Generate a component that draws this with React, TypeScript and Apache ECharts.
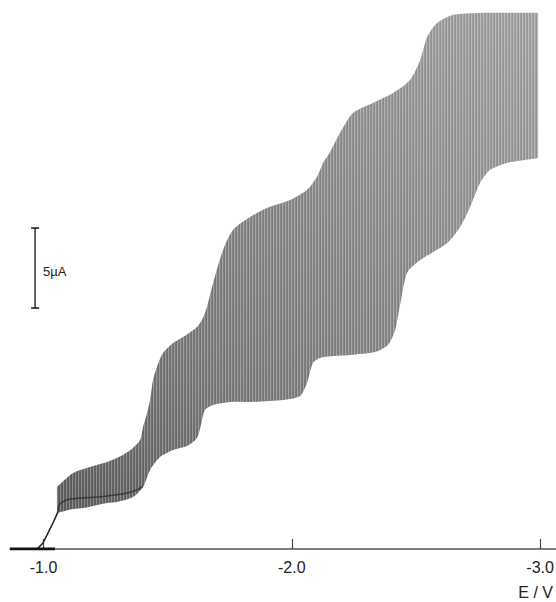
import React, { useEffect, useRef } from "react";
import * as echarts from "echarts";

// Potential E (V) and current I (µA)
const upperE = [-1.054, -1.119, -1.187, -1.256, -1.32, -1.36, -1.389, -1.401, -1.417, -1.429, -1.441, -1.457, -1.481, -1.522, -1.562, -1.618, -1.642, -1.658, -1.683, -1.723, -1.763, -1.832, -1.9, -1.993, -2.061, -2.101, -2.126, -2.154, -2.194, -2.246, -2.327, -2.408, -2.476, -2.517, -2.545, -2.585, -2.649, -2.758, -2.992];
const upperI = [3.88, 4.75, 5.13, 5.44, 5.88, 6.31, 6.81, 7.63, 8.5, 9.31, 10.56, 11.38, 12.25, 12.88, 13.25, 13.88, 14.44, 15.13, 16.63, 18.69, 19.94, 20.75, 21.31, 21.81, 22.44, 23.25, 24.13, 24.81, 26.0, 27.25, 27.88, 28.5, 29.31, 30.56, 32.0, 32.88, 33.38, 33.5, 33.5];

const lowerE = [-1.054, -1.119, -1.159, -1.256, -1.296, -1.36, -1.401, -1.429, -1.469, -1.522, -1.578, -1.618, -1.634, -1.65, -1.683, -1.751, -1.832, -1.965, -2.033, -2.061, -2.085, -2.113, -2.166, -2.234, -2.335, -2.387, -2.416, -2.436, -2.464, -2.517, -2.626, -2.678, -2.718, -2.758, -2.798, -2.867, -2.992];
const lowerI = [2.25, 2.5, 2.56, 2.88, 2.94, 3.25, 3.88, 4.94, 5.75, 6.19, 6.44, 6.94, 7.75, 8.69, 9.0, 9.19, 9.19, 9.31, 9.56, 10.38, 11.63, 11.94, 12.06, 12.13, 12.31, 12.75, 13.69, 15.25, 17.25, 18.06, 19.13, 20.13, 21.38, 22.88, 23.69, 24.13, 24.44];

// rising foot of the wave and mean trace inside the first step
const footE = [-0.974, -0.998, -1.038, -1.058];
const footI = [0, 0.375, 1.625, 2.31];
const meanE = [-1.058, -1.071, -1.151, -1.22, -1.288, -1.353, -1.4];
const meanI = [2.31, 2.88, 3.19, 3.25, 3.38, 3.56, 3.9];

const baseE = [-0.865, -1.046];
const baseI = [0, 0];

const scaleE = [-0.966, -0.966];
const scaleI = [15.06, 20.06];

const tickValues = [-1, -2, -3];

function stripeCanvas(): HTMLCanvasElement {
  const c = document.createElement("canvas");
  c.width = 3;
  c.height = 4;
  const ctx = c.getContext("2d")!;
  ctx.fillStyle = "rgba(255,255,255,0.28)";
  ctx.fillRect(0, 0, 1, 4);
  ctx.fillStyle = "rgba(0,0,0,0.07)";
  ctx.fillRect(2, 0, 1, 4);
  return c;
}

export default function App() {
  const ref = useRef<HTMLDivElement>(null);
  useEffect(() => {
    if (!ref.current) return;
    const chart = echarts.init(ref.current, null, { renderer: "svg" });
    const zip = (a: number[], b: number[]) => a.map((v, i) => [v, b[i]]);
    const fill = new echarts.graphic.LinearGradient(0, 1, 1, 0, [
      { offset: 0, color: "#5c5c5c" },
      { offset: 0.3, color: "#7a7a7a" },
      { offset: 0.65, color: "#8f8f8f" },
      { offset: 1, color: "#a4a4a4" },
    ]);
    const stripes = { image: stripeCanvas(), repeat: "repeat" };
    const bandPoints = (api: any) => {
      const pts: number[][] = [];
      const nU = upperE.length;
      for (let i = 0; i < nU; i++) {
        const p = api.coord([upperE[i], upperI[i]]);
        pts.push(p);
        if (i === 0 || i === nU - 1) pts.push(p);
      }
      for (let i = lowerE.length - 1; i >= 0; i--) {
        const p = api.coord([lowerE[i], lowerI[i]]);
        pts.push(p);
        if (i === 0 || i === lowerE.length - 1) pts.push(p);
      }
      return pts;
    };
    chart.setOption({
      animation: false,
      backgroundColor: "#ffffff",
      grid: { left: 10, right: 0, top: 0, bottom: 53, containLabel: false, outerBoundsMode: "none" },
      xAxis: {
        type: "value",
        inverse: true,
        min: -3.064,
        max: -0.865,
        splitLine: { show: false },
        axisLine: { show: true, onZero: false, lineStyle: { color: "#555", width: 1.5 } },
        axisTick: {
          show: true,
          inside: true,
          length: 10,
          customValues: tickValues,
          lineStyle: { color: "#444", width: 1.2 },
        },
        axisLabel: {
          customValues: tickValues,
          margin: 10,
          fontSize: 16,
          color: "#222",
          hideOverlap: false,
          fontFamily: "Liberation Sans, Arial, sans-serif",
          formatter: (v: number) => v.toFixed(1),
        },
      },
      yAxis: { type: "value", min: 0, max: 34.3125, show: false },
      series: [
        {
          type: "custom",
          data: [[upperE[0], upperI[0]]],
          silent: true,
          renderItem: (_p: any, api: any) => {
            const pts = bandPoints(api);
            return {
              type: "group",
              children: [
                { type: "polygon", shape: { points: pts, smooth: 0.25 }, style: { fill } },
                { type: "polygon", shape: { points: pts, smooth: 0.25 }, style: { fill: stripes } },
              ],
            };
          },
          z: 2,
        },
        {
          type: "line",
          data: zip(meanE, meanI),
          showSymbol: false,
          smooth: true,
          lineStyle: { color: "#2a2a2a", width: 1.5, opacity: 0.75 },
          z: 3,
        },
        {
          type: "line",
          data: zip(footE, footI),
          showSymbol: false,
          lineStyle: { color: "#222", width: 1.6 },
          z: 3,
        },
        {
          type: "line",
          data: zip(baseE, baseI),
          showSymbol: false,
          lineStyle: { color: "#111", width: 3 },
          z: 4,
        },
        {
          type: "line",
          data: zip(scaleE, scaleI),
          symbol: "rect",
          symbolSize: [8, 1.6],
          itemStyle: { color: "#222" },
          lineStyle: { color: "#222", width: 1.4 },
          z: 4,
        },
      ],
      graphic: [
        {
          type: "text",
          left: 43,
          top: 265,
          style: { text: "5µA", fontSize: 13, fill: "#222", fontFamily: "Liberation Sans, Arial, sans-serif" },
        },
        {
          type: "text",
          right: 3,
          top: 584,
          style: { text: "E / V", fontSize: 16, fill: "#222", fontFamily: "Liberation Sans, Arial, sans-serif" },
        },
      ],
    });
    return () => chart.dispose();
  }, []);
  return (
    <div
      ref={ref}
      style={{ position: "fixed", left: 0, top: 0, width: 556, height: 602, background: "#fff" }}
    />
  );
}
